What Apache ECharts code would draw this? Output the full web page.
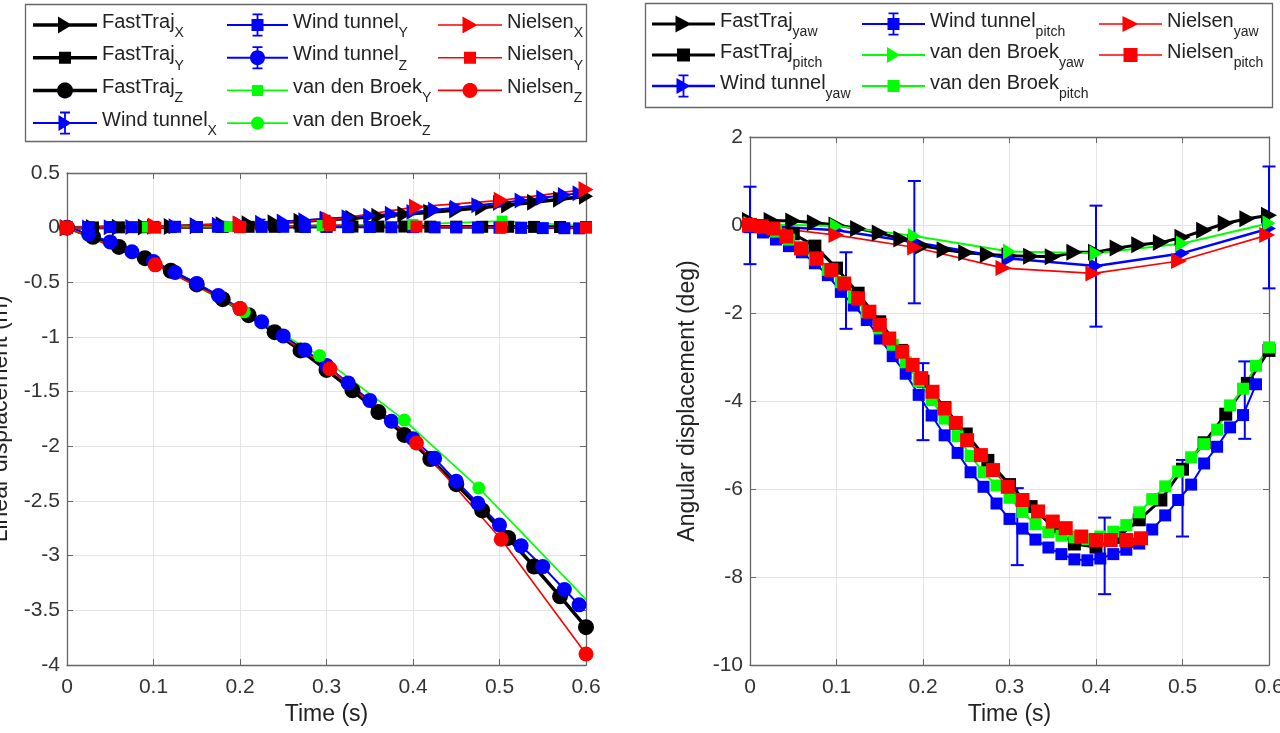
<!DOCTYPE html>
<html>
<head>
<meta charset="utf-8">
<script src="https://cdn.jsdelivr.net/npm/echarts@6/dist/echarts.min.js"></script>
<style>
  html, body { margin: 0; padding: 0; background: #ffffff; }
  #chart { width: 1280px; height: 733px; }
</style>
</head>
<body>
<div id="chart"></div>
<script>
// ---------------- Tick values ----------------
const timeTicks = [0, 0.1, 0.2, 0.3, 0.4, 0.5, 0.6];
const linTicks = [-4, -3.5, -3, -2.5, -2, -1.5, -1, -0.5, 0, 0.5];
const angTicks = [-10, -8, -6, -4, -2, 0, 2];

// ---------------- Linear displacement (m) ----------------
const ftLinT = [0, 0.03, 0.06, 0.09, 0.12, 0.15, 0.18, 0.21, 0.24, 0.27, 0.3, 0.33, 0.36, 0.39, 0.42, 0.45, 0.48, 0.51, 0.54, 0.57, 0.6];
const ftX = [0, 0.001, 0.003, 0.006, 0.011, 0.018, 0.026, 0.035, 0.046, 0.058, 0.072, 0.087, 0.104, 0.122, 0.141, 0.162, 0.184, 0.208, 0.233, 0.26, 0.288];
const ftY = [0, 0.002, 0.003, 0.004, 0.005, 0.006, 0.007, 0.008, 0.008, 0.009, 0.01, 0.01, 0.01, 0.01, 0.009, 0.009, 0.008, 0.008, 0.007, 0.006, 0.005];
const ftZ = [0, -0.083, -0.176, -0.279, -0.394, -0.519, -0.654, -0.8, -0.956, -1.123, -1.301, -1.488, -1.687, -1.896, -2.116, -2.346, -2.586, -2.838, -3.099, -3.372, -3.654];

const wtLinT = [0, 0.025, 0.05, 0.075, 0.1, 0.125, 0.15, 0.175, 0.2, 0.225, 0.25, 0.275, 0.3, 0.325, 0.35, 0.375, 0.4, 0.425, 0.45, 0.475, 0.5, 0.525, 0.55, 0.575, 0.592];
const wtX = [0, 0.001, 0.003, 0.005, 0.009, 0.014, 0.02, 0.027, 0.036, 0.045, 0.056, 0.068, 0.081, 0.095, 0.11, 0.127, 0.144, 0.163, 0.183, 0.204, 0.226, 0.249, 0.273, 0.298, 0.315];
const wtY = [0, 0.004, 0.006, 0.005, 0.007, 0.008, 0.006, 0.008, 0.009, 0.007, 0.008, 0.006, 0.007, 0.005, 0.006, 0.004, 0.005, 0.003, 0.002, 0.001, 0, -0.002, -0.004, -0.005, -0.006];
const wtZ = [0, -0.06, -0.13, -0.22, -0.31, -0.41, -0.51, -0.62, -0.74, -0.86, -0.99, -1.12, -1.26, -1.42, -1.58, -1.77, -1.93, -2.11, -2.32, -2.52, -2.72, -2.91, -3.1, -3.31, -3.45];
const wtXErr = [0, 0, 0, 0.03, 0, 0, 0.03, 0, 0, 0.03, 0, 0, 0.03, 0, 0, 0.03, 0, 0, 0.03, 0, 0, 0.03, 0, 0, 0.03];
const wtYErr = [0, 0, 0, 0.03, 0, 0, 0.03, 0, 0, 0.03, 0, 0, 0.03, 0, 0, 0.03, 0, 0, 0.03, 0, 0, 0.03, 0, 0, 0.03];

const vdbYT = [0, 0.093, 0.188, 0.295, 0.4, 0.503, 0.6];
const vdbY = [0, 0.005, 0.01, 0.02, 0.03, 0.06, 0.015];
const vdbZT = [0, 0.103, 0.205, 0.292, 0.39, 0.476, 0.6];
const vdbZ = [0, -0.34, -0.77, -1.17, -1.76, -2.38, -3.4];

const nielLinT = [0, 0.102, 0.2, 0.304, 0.404, 0.502, 0.6];
const nielX = [0, 0.015, 0.034, 0.07, 0.19, 0.25, 0.35];
const nielY = [0, 0, 0.005, 0.025, 0.01, 0.004, 0];
const nielZ = [0, -0.34, -0.74, -1.29, -1.97, -2.85, -3.9];

// ---------------- Angular displacement (deg) ----------------
const ftAngT = [0, 0.025, 0.05, 0.075, 0.1, 0.125, 0.15, 0.175, 0.2, 0.225, 0.25, 0.275, 0.3, 0.325, 0.35, 0.375, 0.4, 0.425, 0.45, 0.475, 0.5, 0.525, 0.55, 0.575, 0.6];
const ftYaw = [0.1, 0.1, 0.09, 0.05, 0, -0.08, -0.18, -0.32, -0.48, -0.56, -0.63, -0.67, -0.7, -0.71, -0.72, -0.62, -0.62, -0.52, -0.45, -0.4, -0.28, -0.12, 0.04, 0.14, 0.22];
const ftPitch = [0, -0.05, -0.2, -0.48, -0.98, -1.55, -2.2, -2.85, -3.55, -4.15, -4.75, -5.35, -5.9, -6.4, -6.85, -7.25, -7.32, -7.1, -6.7, -6.25, -5.55, -4.95, -4.3, -3.6, -2.85];

const wtYawT = [0, 0.1, 0.19, 0.3, 0.4, 0.5, 0.6];
const wtYaw = [0, -0.12, -0.39, -0.76, -0.93, -0.64, -0.08];
const wtYawErrT = [0, 0.19, 0.4, 0.6];
const wtYawErrLo = [-0.89, -1.78, -2.31, -1.44];
const wtYawErrHi = [0.87, 1.0, 0.44, 1.33];

const wtPitchT = [0, 0.015, 0.03, 0.045, 0.06, 0.075, 0.09, 0.105, 0.12, 0.135, 0.15, 0.165, 0.18, 0.195, 0.21, 0.225, 0.24, 0.255, 0.27, 0.285, 0.3, 0.315, 0.33, 0.345, 0.36, 0.375, 0.39, 0.405, 0.42, 0.435, 0.45, 0.465, 0.48, 0.495, 0.51, 0.525, 0.54, 0.555, 0.57, 0.585];
const wtPitch = [-0.05, -0.17, -0.33, -0.48, -0.62, -0.87, -1.14, -1.52, -1.83, -2.16, -2.58, -2.98, -3.38, -3.86, -4.33, -4.78, -5.18, -5.62, -5.95, -6.33, -6.68, -6.9, -7.15, -7.33, -7.48, -7.6, -7.62, -7.58, -7.48, -7.38, -7.24, -6.92, -6.6, -6.25, -5.9, -5.42, -5.04, -4.6, -4.32, -3.62];
const wtPitchErrT = [0.111, 0.2, 0.309, 0.41, 0.5, 0.572];
const wtPitchErrLo = [-2.36, -4.89, -7.73, -8.39, -7.08, -4.86];
const wtPitchErrHi = [-0.62, -3.14, -5.98, -6.65, -5.34, -3.1];

const vdbYawT = [0, 0.1, 0.19, 0.3, 0.4, 0.5, 0.6];
const vdbYaw = [0.02, -0.02, -0.25, -0.6, -0.64, -0.42, 0.04];
const vdbPitchT = [0, 0.015, 0.03, 0.045, 0.06, 0.075, 0.09, 0.105, 0.12, 0.135, 0.15, 0.165, 0.18, 0.195, 0.21, 0.225, 0.24, 0.255, 0.27, 0.285, 0.3, 0.315, 0.33, 0.345, 0.36, 0.375, 0.39, 0.405, 0.42, 0.435, 0.45, 0.465, 0.48, 0.495, 0.51, 0.525, 0.54, 0.555, 0.57, 0.585, 0.6];
const vdbPitch = [0, -0.05, -0.15, -0.33, -0.55, -0.78, -1.02, -1.3, -1.65, -1.98, -2.35, -2.72, -3.12, -3.55, -3.98, -4.4, -4.8, -5.25, -5.62, -5.92, -6.2, -6.52, -6.8, -6.98, -7.06, -7.1, -7.14, -7.08, -6.97, -6.82, -6.53, -6.23, -5.94, -5.6, -5.28, -4.98, -4.65, -4.1, -3.72, -3.2, -2.78];

const nielYawT = [0, 0.1, 0.191, 0.293, 0.397, 0.496, 0.598];
const nielYaw = [0, -0.23, -0.51, -0.98, -1.1, -0.82, -0.23];
const nielPitchT = [0, 0.013, 0.027, 0.042, 0.059, 0.077, 0.094, 0.109, 0.125, 0.138, 0.15, 0.161, 0.176, 0.188, 0.198, 0.211, 0.225, 0.238, 0.251, 0.267, 0.281, 0.298, 0.315, 0.333, 0.35, 0.365, 0.383, 0.4, 0.417, 0.435, 0.452];
const nielPitch = [0, -0.03, -0.08, -0.26, -0.53, -0.76, -1.02, -1.33, -1.67, -1.97, -2.27, -2.58, -2.88, -3.18, -3.48, -3.79, -4.17, -4.5, -4.89, -5.23, -5.57, -5.95, -6.25, -6.51, -6.74, -6.89, -7.08, -7.16, -7.16, -7.16, -7.12];

// ---------------- Styling ----------------
const FONT = 'Liberation Sans, Arial, Helvetica, sans-serif';
const BLACK = '#000000', BLUE = '#0000ff', GREEN = '#00ff00', RED = '#ff0000';
const AXIS_COLOR = '#666666';
const TRI = 'path://M0 0L10 5L0 10Z';   // right-pointing triangle marker

// Per-series look: colour, line width, marker and marker size
const LOOK = {
  'FastTraj_X':          { color: BLACK, lw: 3.5, marker: 'tri',    size: [14, 17] },
  'FastTraj_Y':          { color: BLACK, lw: 3.5, marker: 'square', size: 12 },
  'FastTraj_Z':          { color: BLACK, lw: 3.5, marker: 'circle', size: 16 },
  'Wind tunnel_X':       { color: BLUE,  lw: 2,   marker: 'tri',    size: [13, 16], err: true },
  'Wind tunnel_Y':       { color: BLUE,  lw: 2,   marker: 'square', size: 12, err: true },
  'Wind tunnel_Z':       { color: BLUE,  lw: 2,   marker: 'circle', size: 15, err: true },
  'van den Broek_Y':     { color: GREEN, lw: 1.6, marker: 'square', size: 11 },
  'van den Broek_Z':     { color: GREEN, lw: 1.6, marker: 'circle', size: 13 },
  'Nielsen_X':           { color: RED,   lw: 1.6, marker: 'tri',    size: [15, 17] },
  'Nielsen_Y':           { color: RED,   lw: 1.6, marker: 'square', size: 12 },
  'Nielsen_Z':           { color: RED,   lw: 1.6, marker: 'circle', size: 15 },
  'FastTraj_yaw':        { color: BLACK, lw: 3,   marker: 'tri',    size: [16, 17] },
  'FastTraj_pitch':      { color: BLACK, lw: 3,   marker: 'square', size: 13 },
  'Wind tunnel_yaw':     { color: BLUE,  lw: 2.5, marker: 'tri',    size: [14, 16], err: true },
  'Wind tunnel_pitch':   { color: BLUE,  lw: 2,   marker: 'square', size: 12, err: true },
  'van den Broek_yaw':   { color: GREEN, lw: 2,   marker: 'tri',    size: [13, 16] },
  'van den Broek_pitch': { color: GREEN, lw: 2,   marker: 'square', size: 12 },
  'Nielsen_yaw':         { color: RED,   lw: 1.6, marker: 'tri',    size: [16, 16] },
  'Nielsen_pitch':       { color: RED,   lw: 1.6, marker: 'square', size: 14 }
};
const SYMBOL = { tri: TRI, square: 'rect', circle: 'circle' };

function pairs(t, v) { return t.map((x, i) => [x, v[i]]); }

function lineSeries(name, axis, t, v, hideLast) {
  const look = LOOK[name];
  const data = pairs(t, v).map((p, i) =>
    (hideLast && i === t.length - 1) ? { value: p, symbol: 'none' } : p);
  return {
    type: 'line', name, xAxisIndex: axis, yAxisIndex: axis, data,
    symbol: SYMBOL[look.marker], symbolSize: look.size, showSymbol: true,
    lineStyle: { color: look.color, width: look.lw },
    itemStyle: { color: look.color, borderWidth: 0 },
    emphasis: { disabled: true }, animation: false, clip: false, silent: true
  };
}

// Vertical error bars with caps, positioned through the axes
function errorBars(name, axis, t, lo, hi, color, cap, lw) {
  return {
    type: 'custom', name, xAxisIndex: axis, yAxisIndex: axis, silent: true, animation: false, clip: false,
    data: t.map((x, i) => [x, lo[i], hi[i]]),
    renderItem: (params, api) => {
      const top = api.coord([api.value(0), api.value(2)]);
      const bot = api.coord([api.value(0), api.value(1)]);
      const st = { stroke: color, lineWidth: lw };
      return { type: 'group', children: [
        { type: 'line', shape: { x1: top[0], y1: top[1], x2: bot[0], y2: bot[1] }, style: st },
        { type: 'line', shape: { x1: top[0] - cap / 2, y1: top[1], x2: top[0] + cap / 2, y2: top[1] }, style: st },
        { type: 'line', shape: { x1: bot[0] - cap / 2, y1: bot[1], x2: bot[0] + cap / 2, y2: bot[1] }, style: st }
      ]};
    }
  };
}

// Error bars on the linear wind tunnel series where a half-width is given
function linErr(name, vals, errs) {
  const idx = errs.map((e, i) => e > 0 ? i : -1).filter(i => i >= 0);
  return errorBars(name, 0, idx.map(i => wtLinT[i]), idx.map(i => vals[i] - errs[i]),
                   idx.map(i => vals[i] + errs[i]), BLUE, 8, 1.5);
}

// ---------------- Legend icons (line + marker [+ error bar]) ----------------
const ICON_H = 24;
function rectP(x, y, w, h) { return `M${x} ${y}L${x + w} ${y}L${x + w} ${y + h}L${x} ${y + h}Z`; }
function triP(cx, cy, w, h) { return `M${cx - w / 2} ${cy - h / 2}L${cx + w / 2} ${cy}L${cx - w / 2} ${cy + h / 2}Z`; }
function circP(cx, cy, r) {
  let s = '';
  for (let i = 0; i < 28; i++) {
    const a = i / 28 * Math.PI * 2;
    s += (i ? 'L' : 'M') + (cx + r * Math.cos(a)).toFixed(2) + ' ' + (cy + r * Math.sin(a)).toFixed(2);
  }
  return s + 'Z';
}
function legendIcon(name, w) {
  const look = LOOK[name];
  const cy = ICON_H / 2, cx = w / 2;
  let p = `M0 0L0.01 0L0 0.01ZM${w} ${ICON_H}L${w - 0.01} ${ICON_H}L${w} ${ICON_H - 0.01}Z`;
  p += rectP(0, cy - look.lw / 2, w, look.lw);
  if (look.err) {
    p += rectP(cx - 0.9, 0.5, 1.8, ICON_H - 1);
    p += rectP(cx - 5, 0.5, 10, 1.8) + rectP(cx - 5, ICON_H - 2.3, 10, 1.8);
  }
  const sz = Array.isArray(look.size) ? look.size : [look.size, look.size];
  if (look.marker === 'tri') p += triP(cx, cy, sz[0], sz[1]);
  else if (look.marker === 'square') p += rectP(cx - sz[0] / 2, cy - sz[1] / 2, sz[0], sz[1]);
  else p += circP(cx, cy, sz[0] / 2);
  return 'path://' + p;
}

function legendColumn(names, left, top, w, gap) {
  return {
    orient: 'vertical', left, top, padding: 0, itemGap: gap,
    itemWidth: w, itemHeight: ICON_H, selectedMode: false,
    data: names.map(n => ({ name: n, icon: legendIcon(n, w),
                            itemStyle: { color: LOOK[n].color, borderWidth: 0 } })),
    formatter: name => { const k = name.lastIndexOf('_'); return `{a|${name.slice(0, k)}}{s|${name.slice(k + 1)}}`; },
    textStyle: {
      color: '#222', fontFamily: FONT, fontSize: 20,
      rich: {
        a: { color: '#222', fontFamily: FONT, fontSize: 20, verticalAlign: 'top', padding: [2, 0, 0, 0] },
        s: { color: '#222', fontFamily: FONT, fontSize: 14, verticalAlign: 'bottom', padding: [16, 0, 0, 0] }
      }
    }
  };
}

// ---------------- Axes ----------------
const AXL = { show: true, onZero: false, lineStyle: { color: AXIS_COLOR, width: 1.3 } };
const TICK = { show: true, inside: true, length: 6, lineStyle: { color: AXIS_COLOR, width: 1 } };
const SPL = { show: true, lineStyle: { color: '#e4e4e4', width: 1 } };
const LABEL = { fontSize: 21, color: '#333', fontFamily: FONT };
const fmt = v => String(Math.round(v * 100) / 100);

function range(ticks) {
  return { min: ticks[0], max: ticks[ticks.length - 1], interval: ticks[1] - ticks[0] };
}
function xAxes(g) {
  const base = Object.assign({ gridIndex: g, type: 'value' }, range(timeTicks));
  return [
    Object.assign({}, base, {
      position: 'bottom', name: 'Time (s)', nameLocation: 'middle', nameGap: 37,
      nameTextStyle: { fontSize: 23, color: '#222', fontFamily: FONT },
      axisLine: AXL, axisTick: TICK, splitLine: SPL,
      axisLabel: Object.assign({ margin: 12, formatter: fmt }, LABEL)
    }),
    Object.assign({}, base, {
      position: 'top', axisLine: AXL, axisTick: TICK,
      axisLabel: { show: false }, splitLine: { show: false }
    })
  ];
}
function yAxes(g, ticks, name, gap) {
  const base = Object.assign({ gridIndex: g, type: 'value' }, range(ticks));
  return [
    Object.assign({}, base, {
      position: 'left', name, nameLocation: 'middle', nameGap: gap,
      nameTextStyle: { fontSize: 23, color: '#222', fontFamily: FONT },
      axisLine: AXL, axisTick: TICK, splitLine: SPL,
      axisLabel: Object.assign({ margin: 7, formatter: fmt }, LABEL)
    }),
    Object.assign({}, base, {
      position: 'right', axisLine: AXL, axisTick: TICK,
      axisLabel: { show: false }, splitLine: { show: false }
    })
  ];
}

// ---------------- Series ----------------
const series = [
  // linear displacement (axis index 0)
  lineSeries('FastTraj_X', 0, ftLinT, ftX),
  lineSeries('FastTraj_Y', 0, ftLinT, ftY),
  lineSeries('FastTraj_Z', 0, ftLinT, ftZ),
  lineSeries('Wind tunnel_X', 0, wtLinT, wtX),
  linErr('Wind tunnel_X error', wtX, wtXErr),
  lineSeries('Wind tunnel_Y', 0, wtLinT, wtY),
  linErr('Wind tunnel_Y error', wtY, wtYErr),
  lineSeries('Wind tunnel_Z', 0, wtLinT, wtZ),
  lineSeries('van den Broek_Y', 0, vdbYT, vdbY, true),
  lineSeries('van den Broek_Z', 0, vdbZT, vdbZ, true),
  lineSeries('Nielsen_X', 0, nielLinT, nielX),
  lineSeries('Nielsen_Y', 0, nielLinT, nielY),
  lineSeries('Nielsen_Z', 0, nielLinT, nielZ),
  // angular displacement (axis index 2)
  lineSeries('FastTraj_yaw', 2, ftAngT, ftYaw),
  lineSeries('FastTraj_pitch', 2, ftAngT, ftPitch),
  lineSeries('Wind tunnel_yaw', 2, wtYawT, wtYaw),
  errorBars('Wind tunnel_yaw error', 2, wtYawErrT, wtYawErrLo, wtYawErrHi, BLUE, 13, 2),
  lineSeries('Wind tunnel_pitch', 2, wtPitchT, wtPitch),
  errorBars('Wind tunnel_pitch error', 2, wtPitchErrT, wtPitchErrLo, wtPitchErrHi, BLUE, 13, 2),
  lineSeries('van den Broek_yaw', 2, vdbYawT, vdbYaw),
  lineSeries('van den Broek_pitch', 2, vdbPitchT, vdbPitch),
  lineSeries('Nielsen_yaw', 2, nielYawT, nielYaw),
  lineSeries('Nielsen_pitch', 2, nielPitchT, nielPitch)
];

const option = {
  backgroundColor: '#ffffff',
  animation: false,
  grid: [
    { left: 67, top: 173, width: 519, height: 492, containLabel: false, outerBoundsMode: 'none' },
    { left: 750, top: 137, width: 519, height: 528, containLabel: false, outerBoundsMode: 'none' }
  ],
  xAxis: xAxes(0).concat(xAxes(1)),
  yAxis: yAxes(0, linTicks, 'Linear displacement (m)', 55).concat(yAxes(1, angTicks, 'Angular displacement (deg)', 51)),
  legend: [
    legendColumn(['FastTraj_X', 'FastTraj_Y', 'FastTraj_Z', 'Wind tunnel_X'], 33, 12, 64, 4.7),
    legendColumn(['Wind tunnel_Y', 'Wind tunnel_Z', 'van den Broek_Y', 'van den Broek_Z'], 227, 12, 61, 4.7),
    legendColumn(['Nielsen_X', 'Nielsen_Y', 'Nielsen_Z'], 438, 12, 64, 4.7),
    legendColumn(['FastTraj_yaw', 'FastTraj_pitch', 'Wind tunnel_yaw'], 652, 11, 63, 3),
    legendColumn(['Wind tunnel_pitch', 'van den Broek_yaw', 'van den Broek_pitch'], 862, 11, 63, 3),
    legendColumn(['Nielsen_yaw', 'Nielsen_pitch'], 1099, 11, 63, 3)
  ],
  graphic: [
    { type: 'rect', z: 0, silent: true, shape: { x: 25.5, y: 4.5, width: 561, height: 137 },
      style: { fill: 'transparent', stroke: AXIS_COLOR, lineWidth: 1.3 } },
    { type: 'rect', z: 0, silent: true, shape: { x: 645.5, y: 3.5, width: 627, height: 104 },
      style: { fill: 'transparent', stroke: AXIS_COLOR, lineWidth: 1.3 } }
  ],
  series
};

const chart = echarts.init(document.getElementById('chart'));
chart.setOption(option);
</script>
</body>
</html>
